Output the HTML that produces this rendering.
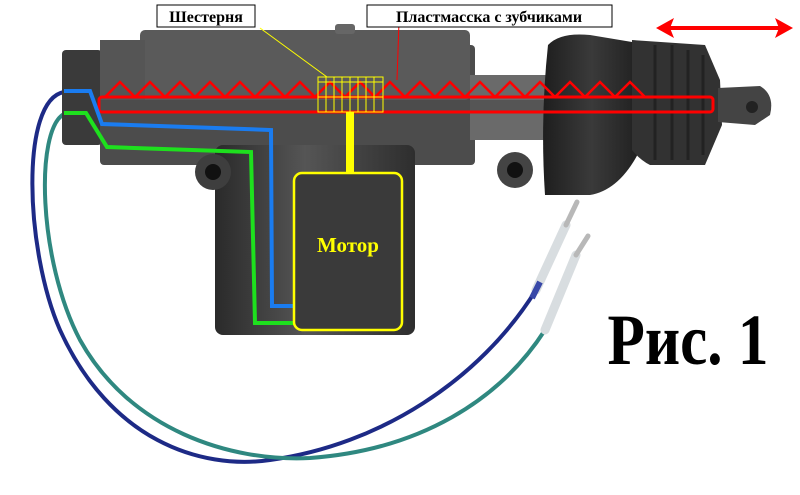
<!DOCTYPE html>
<html><head><meta charset="utf-8"><style>
html,body{margin:0;padding:0;background:#fff;}
svg{display:block;}
</style></head><body>
<svg width="800" height="495" viewBox="0 0 800 495" xmlns="http://www.w3.org/2000/svg">
<defs>
<linearGradient id="mg" x1="0" x2="1" y1="0" y2="0">
<stop offset="0" stop-color="#2a2a2a"/><stop offset="0.45" stop-color="#555"/><stop offset="1" stop-color="#2e2e2e"/>
</linearGradient>
<linearGradient id="bg" x1="0" x2="1" y1="0" y2="0">
<stop offset="0" stop-color="#1e1e1e"/><stop offset="0.5" stop-color="#3a3a3a"/><stop offset="1" stop-color="#202020"/>
</linearGradient>
</defs>
<rect width="800" height="495" fill="#fff"/>

<path d="M64,92 C20,100 25,250 60,330 C110,440 200,470 270,460 C380,445 480,380 536,290" fill="none" stroke="#1d2a86" stroke-width="4"/>
<path d="M64,114 C35,130 38,260 80,340 C130,430 230,462 310,458 C420,450 500,400 545,330" fill="none" stroke="#2f8880" stroke-width="4"/>
<line x1="536" y1="290" x2="566" y2="225" stroke="#d8dde0" stroke-width="9" stroke-linecap="round"/>
<line x1="566" y1="225" x2="577" y2="202" stroke="#b8b8b8" stroke-width="5" stroke-linecap="round"/>
<line x1="545" y1="330" x2="576" y2="255" stroke="#d8dde0" stroke-width="9" stroke-linecap="round"/>
<line x1="576" y1="255" x2="588" y2="236" stroke="#b8b8b8" stroke-width="5" stroke-linecap="round"/>
<line x1="532" y1="298" x2="540" y2="282" stroke="#3848a8" stroke-width="6"/>

<rect x="62" y="50" width="40" height="95" rx="4" fill="#3a3a3a"/>
<rect x="100" y="45" width="375" height="120" rx="4" fill="#4c4c4c"/>
<rect x="140" y="30" width="330" height="70" rx="5" fill="#5a5a5a"/>
<rect x="100" y="40" width="45" height="60" fill="#555"/>
<rect x="335" y="24" width="20" height="10" rx="3" fill="#666"/>
<rect x="215" y="145" width="200" height="190" rx="8" fill="url(#mg)"/>
<circle cx="213" cy="172" r="18" fill="#3e3e3e"/><circle cx="213" cy="172" r="8" fill="#111"/>
<circle cx="515" cy="170" r="18" fill="#444"/><circle cx="515" cy="170" r="8" fill="#111"/>
<rect x="470" y="75" width="90" height="65" fill="#6a6a6a"/>
<rect x="470" y="100" width="90" height="12" fill="#555"/>
<path d="M548,45 Q560,32 590,35 L632,42 L640,150 Q620,190 590,195 L545,195 Q540,120 548,45 Z" fill="url(#bg)"/>
<path d="M632,40 L705,45 L720,80 L722,125 L705,165 L650,165 Q640,160 632,150 Z" fill="#323232"/>
<g stroke="#222" stroke-width="3"><line x1="655" y1="45" x2="655" y2="160"/><line x1="672" y1="45" x2="672" y2="160"/><line x1="688" y1="50" x2="688" y2="160"/><line x1="703" y1="55" x2="703" y2="155"/></g>
<path d="M718,88 L760,86 Q775,95 770,115 L755,125 L718,122 Z" fill="#444"/>
<circle cx="752" cy="107" r="6" fill="#222"/>

<rect x="99" y="97" width="614" height="15" rx="3" fill="none" stroke="#f00" stroke-width="3"/>
<polyline fill="none" stroke="#f00" stroke-width="2.5" points="105,97 120,82 135,97 150,82 165,97 180,82 195,97 210,82 225,97 240,82 255,97 270,82 285,97 300,82 315,97 330,82 345,97 360,82 375,97 390,82 405,97 420,82 435,97 450,82 465,97 480,82 495,97 510,82 525,97 540,82 555,97 570,82 585,97 600,82 615,97 630,82 645,97"/>
<g stroke="#ff0" stroke-width="1" fill="none">
<rect x="318" y="77" width="65" height="35"/>
<line x1="326" y1="77" x2="326" y2="112"/><line x1="334" y1="77" x2="334" y2="112"/><line x1="342" y1="77" x2="342" y2="112"/><line x1="350" y1="77" x2="350" y2="112"/><line x1="358" y1="77" x2="358" y2="112"/><line x1="366" y1="77" x2="366" y2="112"/><line x1="374" y1="77" x2="374" y2="112"/>
<line x1="318" y1="82" x2="383" y2="82"/><line x1="318" y1="97" x2="383" y2="97"/>
</g>
<rect x="346" y="112" width="8" height="60" fill="#ff0"/>
<polyline fill="none" stroke="#1a7cf0" stroke-width="4" points="64,91 90,91 102,124 271,130 272,306 294,306"/>
<polyline fill="none" stroke="#1ee01e" stroke-width="4" points="64,113 86,113 107,147 251,152 255,323 294,323"/>
<rect x="294" y="173" width="108" height="157" rx="8" fill="#3a3a3a" stroke="#ff0" stroke-width="2.5"/>
<text x="348" y="252" text-anchor="middle" font-family="Liberation Serif, serif" font-weight="bold" font-size="21" fill="#ff0">Мотор</text>

<line x1="260" y1="28" x2="327" y2="77" stroke="#ff0" stroke-width="1"/>
<line x1="399" y1="22" x2="397" y2="80" stroke="#f00" stroke-width="1"/>
<rect x="157" y="5" width="98" height="22" fill="#fff" stroke="#000"/>
<text x="206" y="22" text-anchor="middle" font-family="Liberation Serif, serif" font-weight="bold" font-size="16">Шестерня</text>
<rect x="367" y="5" width="245" height="22" fill="#fff" stroke="#000"/>
<text x="489" y="22" text-anchor="middle" font-family="Liberation Serif, serif" font-weight="bold" font-size="16">Пластмасска с зубчиками</text>
<line x1="668" y1="28" x2="780" y2="28" stroke="#f00" stroke-width="4"/>
<polygon points="656,28 674,18 670,28 674,38" fill="#f00"/>
<polygon points="793,28 775,18 779,28 775,38" fill="#f00"/>

<text x="688" y="364" text-anchor="middle" font-family="Liberation Serif, serif" font-weight="bold" font-size="72" transform="translate(688,0) scale(0.85,1) translate(-688,0)">Рис. 1</text>
</svg>
</body></html>
